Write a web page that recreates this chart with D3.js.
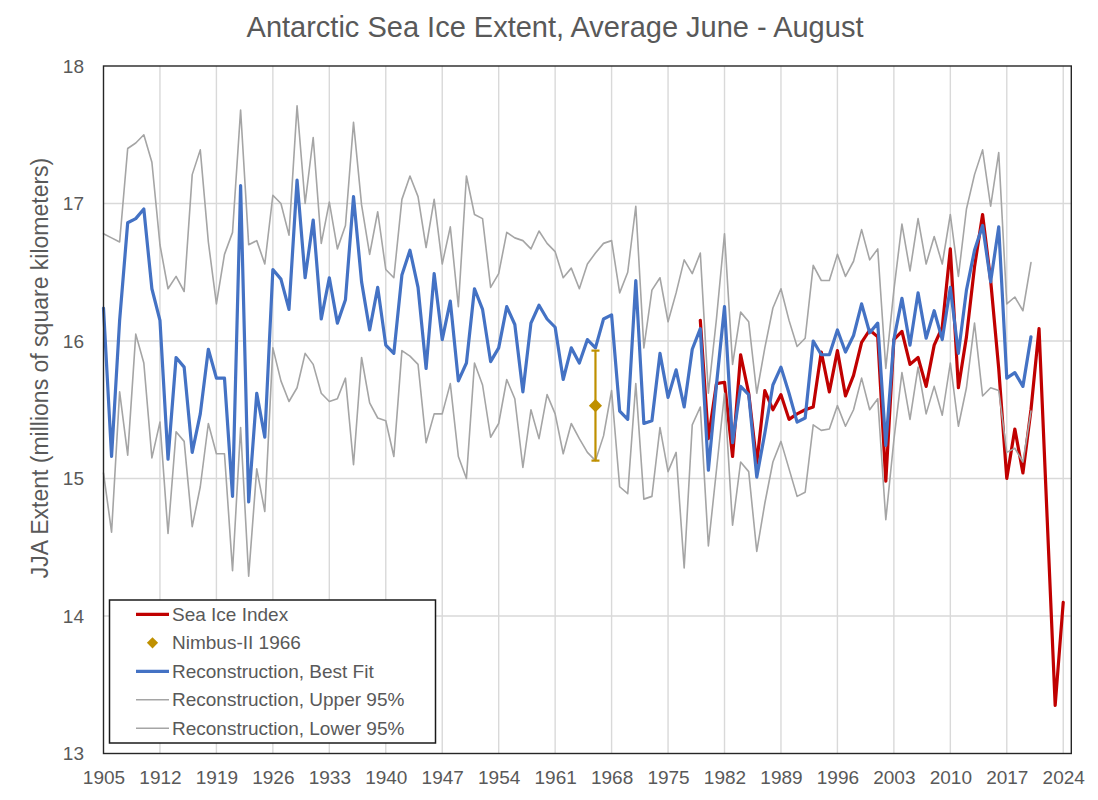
<!DOCTYPE html>
<html>
<head>
<meta charset="utf-8">
<script src="https://cdn.jsdelivr.net/npm/d3@7"></script>
<style>
  html, body { margin: 0; padding: 0; background: #ffffff; }
  svg { display: block; font-family: "Liberation Sans", Arial, sans-serif; }
</style>
</head>
<body>
<svg id="chart" width="1098" height="800"></svg>
<script>
// ---------------- DATA ----------------
const chartTitle = "Antarctic Sea Ice Extent, Average June - August";
const yAxisTitle = "JJA Extent (millions of square kilometers)";
const xTickLabels = [1905, 1912, 1919, 1926, 1933, 1940, 1947, 1954, 1961, 1968, 1975, 1982, 1989, 1996, 2003, 2010, 2017, 2024];
const yTickLabels = [13, 14, 15, 16, 17, 18];

const reconStartYear = 1905;
const bestFit = [
  16.24, 15.16, 16.15, 16.86, 16.89, 16.96, 16.38, 16.15, 15.14, 15.88, // 1905-1914
  15.81, 15.19, 15.47, 15.94, 15.73, 15.73, 14.87, 17.13, 14.83, 15.62, // 1915-1924
  15.30, 16.52, 16.45, 16.23, 17.17, 16.46, 16.88, 16.16, 16.46, 16.13, // 1925-1934
  16.30, 17.05, 16.43, 16.08, 16.39, 15.97, 15.91, 16.48, 16.66, 16.39, // 1935-1944
  15.80, 16.49, 16.01, 16.29, 15.71, 15.84, 16.38, 16.23, 15.85, 15.95, // 1945-1954
  16.25, 16.12, 15.63, 16.13, 16.26, 16.16, 16.10, 15.72, 15.95, 15.84, // 1955-1964
  16.01, 15.95, 16.16, 16.19, 15.49, 15.43, 16.44, 15.40, 15.42, 15.91, // 1965-1974
  15.59, 15.79, 15.52, 15.94, 16.09, 15.06, 15.68, 16.25, 15.26, 15.67, // 1975-1984
  15.61, 15.01, 15.33, 15.68, 15.81, 15.62, 15.41, 15.44, 16.00, 15.90, // 1985-1994
  15.90, 16.08, 15.92, 16.04, 16.27, 16.06, 16.13, 15.24, 16.01, 16.31, // 1995-2004
  15.97, 16.35, 16.02, 16.22, 16.01, 16.39, 15.91, 16.37, 16.66, 16.84, // 2005-2014
  16.43, 16.83, 15.73, 15.77, 15.67, 16.03                              // 2015-2020
];
const upper95 = [
  16.78, 16.75, 16.72, 17.40, 17.44, 17.50, 17.30, 16.70, 16.38, 16.47,
  16.36, 17.21, 17.39, 16.72, 16.27, 16.63, 16.79, 17.68, 16.70, 16.73,
  16.56, 17.06, 17.00, 16.77, 17.71, 17.00, 17.48, 16.71, 17.01, 16.67,
  16.84, 17.59, 16.99, 16.63, 16.94, 16.52, 16.46, 17.03, 17.20, 17.05,
  16.68, 17.03, 16.56, 16.83, 16.25, 17.20, 16.92, 16.89, 16.39, 16.49,
  16.79, 16.75, 16.73, 16.67, 16.80, 16.71, 16.65, 16.46, 16.53, 16.38,
  16.56, 16.64, 16.71, 16.73, 16.35, 16.50, 16.98, 15.95, 16.37, 16.46,
  16.14, 16.35, 16.59, 16.49, 16.64, 15.62, 16.16, 16.78, 15.83, 16.21,
  16.14, 15.62, 15.95, 16.24, 16.38, 16.15, 15.96, 16.02, 16.55, 16.44,
  16.44, 16.63, 16.47, 16.58, 16.81, 16.59, 16.67, 15.80, 16.37, 16.85,
  16.51, 16.89, 16.56, 16.76, 16.56, 16.92, 16.47, 16.96, 17.21, 17.39,
  16.98, 17.37, 16.27, 16.32, 16.22, 16.57
];
const lower95 = [
  15.04, 14.61, 15.63, 15.17, 16.05, 15.84, 15.15, 15.41, 14.60, 15.34,
  15.27, 14.65, 14.94, 15.40, 15.18, 15.18, 14.33, 15.37, 14.29, 15.07,
  14.76, 15.95, 15.71, 15.56, 15.66, 15.91, 15.83, 15.62, 15.56, 15.58,
  15.73, 15.10, 15.88, 15.55, 15.44, 15.42, 15.16, 15.93, 15.89, 15.83,
  15.26, 15.47, 15.47, 15.69, 15.16, 15.00, 15.84, 15.68, 15.30, 15.40,
  15.72, 15.58, 15.08, 15.50, 15.29, 15.61, 15.47, 15.18, 15.40, 15.29,
  15.19, 15.13, 15.31, 15.64, 14.94, 14.89, 15.69, 14.85, 14.87, 15.37,
  15.05, 15.19, 14.35, 15.39, 15.52, 14.51, 15.06, 15.62, 14.66, 15.12,
  15.05, 14.47, 14.82, 15.12, 15.27, 15.07, 14.87, 14.90, 15.39, 15.35,
  15.36, 15.53, 15.38, 15.50, 15.73, 15.50, 15.58, 14.70, 15.28, 15.77,
  15.43, 15.81, 15.47, 15.67, 15.46, 15.84, 15.38, 15.66, 16.13, 15.60,
  15.66, 15.64, 15.19, 15.22, 15.12, 15.49
];

const seaIceStartYear = 1979;
const seaIceIndex = [
  16.15, 15.29, 15.69, 15.70, 15.16, 15.90, 15.62, 15.11, 15.64, 15.50, // 1979-1988
  15.61, 15.43, 15.47, 15.50, 15.52, 15.92, 15.63, 15.93, 15.60, 15.75, // 1989-1998
  15.99, 16.08, 16.03, 14.98, 16.01, 16.07, 15.83, 15.88, 15.67, 15.97, // 1999-2008
  16.10, 16.67, 15.66, 16.03, 16.54, 16.92, 16.44, 15.80, 15.00, 15.36, // 2009-2018
  15.04, 15.50, 16.09, 14.72, 13.35, 14.10                              // 2019-2024
];

const nimbusYear = [1966];
const nimbusValue = [15.53];
const nimbusLow = [15.13];
const nimbusHigh = [15.93];

const legendLabels = ["Sea Ice Index", "Nimbus-II 1966", "Reconstruction, Best Fit", "Reconstruction, Upper 95%", "Reconstruction, Lower 95%"];

// ---------------- COLOURS ----------------
const colRed = "#C00000", colBlue = "#4472C4", colGrey = "#A5A5A5", colGold = "#BF9000";
const textCol = "#595959";

// ---------------- LAYOUT ----------------
const svg = d3.select("#chart");
const plot = { left: 103.5, right: 1071.3, top: 66, bottom: 753.5 };

const x = d3.scaleLinear().domain([1905, 2025]).range([plot.left, plot.right]);
const y = d3.scaleLinear().domain([13, 18]).range([plot.bottom, plot.top]);

const toSeries = (start, arr) => arr.map((v, i) => ({ year: start + i, value: v }));

// gridlines
const grid = svg.append("g");
grid.selectAll("line.v").data(xTickLabels.filter(t => t !== 1905)).join("line")
  .attr("x1", d => x(d)).attr("x2", d => x(d))
  .attr("y1", plot.top).attr("y2", plot.bottom)
  .attr("stroke", "#D9D9D9").attr("stroke-width", 1.4);
grid.selectAll("line.h").data(yTickLabels.filter(t => t !== 13 && t !== 18)).join("line")
  .attr("x1", plot.left).attr("x2", plot.right)
  .attr("y1", d => y(d)).attr("y2", d => y(d))
  .attr("stroke", "#D9D9D9").attr("stroke-width", 1.4);

// axes
const xAxis = svg.append("g").attr("transform", `translate(0,${plot.bottom})`)
  .call(d3.axisBottom(x).tickValues(xTickLabels).tickFormat(d3.format("d")).tickSize(0).tickPadding(17));
const yAxis = svg.append("g").attr("transform", `translate(${plot.left},0)`)
  .call(d3.axisLeft(y).tickValues(yTickLabels).tickFormat(d3.format("d")).tickSize(0).tickPadding(19.5));
[xAxis, yAxis].forEach(a => {
  a.select(".domain").remove();
  a.selectAll("text").attr("fill", textCol).style("font-size", "19px")
    .style("font-family", "'Liberation Sans', Arial, sans-serif");
});

// lines
const line = d3.line().x(d => x(d.year)).y(d => y(d.value));
const lines = svg.append("g").attr("fill", "none").attr("stroke-linejoin", "round").attr("stroke-linecap", "round");

lines.append("path").datum(toSeries(seaIceStartYear, seaIceIndex))
  .attr("d", line).attr("stroke", colRed).attr("stroke-width", 3.2);

// Nimbus error bar & marker
const nim = svg.append("g");
nimbusYear.forEach((yr, i) => {
  nim.append("line").attr("x1", x(yr)).attr("x2", x(yr))
    .attr("y1", y(nimbusLow[i])).attr("y2", y(nimbusHigh[i]))
    .attr("stroke", colGold).attr("stroke-width", 2.2);
  [nimbusLow[i], nimbusHigh[i]].forEach(v => {
    nim.append("line").attr("x1", x(yr) - 4).attr("x2", x(yr) + 4)
      .attr("y1", y(v)).attr("y2", y(v)).attr("stroke", colGold).attr("stroke-width", 2.2);
  });
  nim.append("path")
    .attr("d", d3.symbol().type(d3.symbolDiamond2).size(110)())
    .attr("transform", `translate(${x(yr)},${y(nimbusValue[i])})`)
    .attr("fill", colGold);
});

lines.append("path").datum(toSeries(reconStartYear, bestFit))
  .attr("d", line).attr("stroke", colBlue).attr("stroke-width", 3.2);
lines.append("path").datum(toSeries(reconStartYear, upper95))
  .attr("d", line).attr("stroke", colGrey).attr("stroke-width", 1.6);
lines.append("path").datum(toSeries(reconStartYear, lower95))
  .attr("d", line).attr("stroke", colGrey).attr("stroke-width", 1.6);

// plot border
svg.append("rect").attr("x", plot.left).attr("y", plot.top)
  .attr("width", plot.right - plot.left).attr("height", plot.bottom - plot.top)
  .attr("fill", "none").attr("stroke", "#262626").attr("stroke-width", 1.4);

// title
svg.append("text").attr("x", 555).attr("y", 37).attr("text-anchor", "middle")
  .attr("fill", textCol).style("font-size", "29px").text(chartTitle);

// y axis title
svg.append("text").attr("transform", "rotate(-90)")
  .attr("x", -368).attr("y", 48).attr("text-anchor", "middle")
  .attr("fill", textCol).style("font-size", "23px").text(yAxisTitle);

// legend
const lg = svg.append("g");
lg.append("rect").attr("x", 109.5).attr("y", 600).attr("width", 326).attr("height", 143)
  .attr("fill", "#ffffff").attr("stroke", "#1a1a1a").attr("stroke-width", 1.5);
const rowY = i => 614.3 + i * 28.5;
const legendKinds = [
  { type: "line", color: colRed, w: 3.2 },
  { type: "diamond", color: colGold },
  { type: "line", color: colBlue, w: 3.2 },
  { type: "line", color: colGrey, w: 1.6 },
  { type: "line", color: colGrey, w: 1.6 }
];
legendLabels.forEach((lab, i) => {
  const k = legendKinds[i];
  if (k.type === "line") {
    lg.append("line").attr("x1", 136).attr("x2", 169).attr("y1", rowY(i)).attr("y2", rowY(i))
      .attr("stroke", k.color).attr("stroke-width", k.w);
  } else {
    lg.append("path").attr("d", d3.symbol().type(d3.symbolDiamond2).size(80)())
      .attr("transform", `translate(152.5,${rowY(i)})`).attr("fill", k.color);
  }
  lg.append("text").attr("x", 172).attr("y", rowY(i)).attr("dy", "0.35em")
    .attr("fill", textCol).style("font-size", "19px").text(lab);
});
</script>
</body>
</html>
